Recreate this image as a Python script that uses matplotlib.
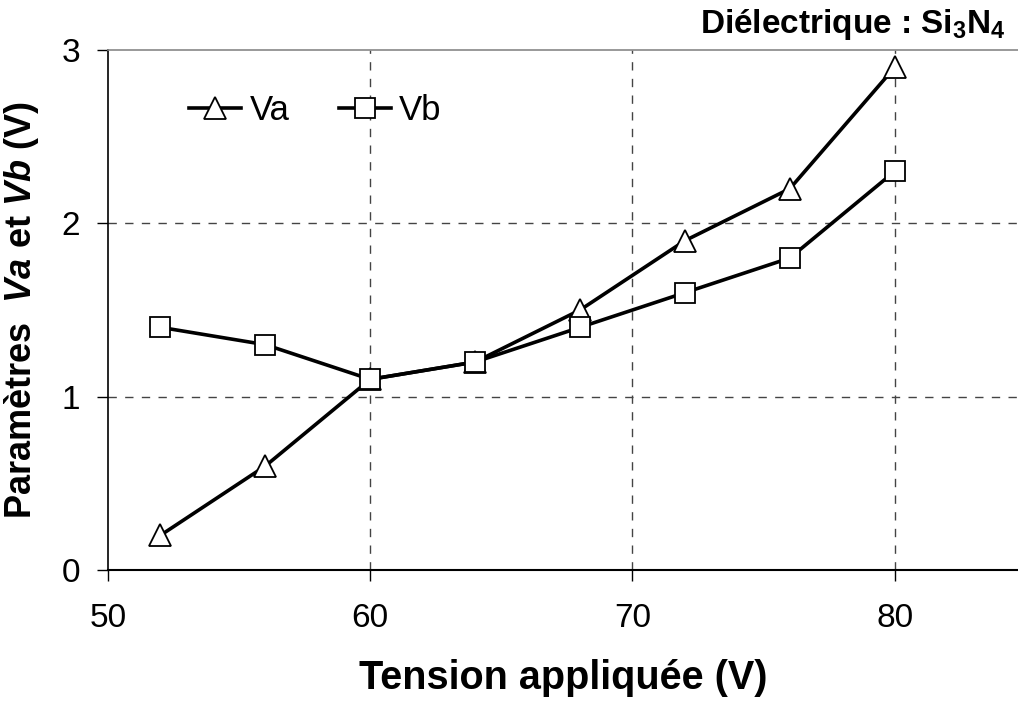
import matplotlib
matplotlib.use("Agg")
import matplotlib.pyplot as plt

plt.rcParams['font.family'] = ['Liberation Sans', 'DejaVu Sans']
plt.rcParams['mathtext.fontset'] = 'custom'
plt.rcParams['mathtext.rm'] = 'Liberation Sans'
plt.rcParams['mathtext.bf'] = 'Liberation Sans:bold'
plt.rcParams['mathtext.it'] = 'Liberation Sans:italic'
plt.rcParams['mathtext.bfit'] = 'Liberation Sans:italic:bold'

tension = [52, 56, 60, 64, 68, 72, 76, 80]
va = [0.2, 0.6, 1.1, 1.2, 1.5, 1.9, 2.2, 2.9]
vb = [1.4, 1.3, 1.1, 1.2, 1.4, 1.6, 1.8, 2.3]
xticks = [50, 60, 70, 80]
yticks = [0, 1, 2, 3]

fig = plt.figure(figsize=(10.18, 7.04), dpi=100)
ax = fig.add_axes([108/1018, 1 - 570/704, (1018 - 108)/1018, (570 - 50)/704])

ax.plot(tension, va, color='black', lw=2.6, marker='^', ms=16, mfc='white',
        mec='black', mew=1.3, label='Va', zorder=3)
ax.plot(tension, vb, color='black', lw=2.6, marker='s', ms=14, mfc='white',
        mec='black', mew=1.3, label='Vb', zorder=3)

ax.set_xlim(50, 84.7)
ax.set_ylim(0, 3)
ax.set_xticks(xticks)
ax.set_yticks(yticks)
ax.tick_params(axis='both', direction='out', length=8, width=1, labelsize=24, colors='black')
ax.tick_params(axis='x', pad=16)
ax.tick_params(axis='y', pad=12)

for v in [60, 70, 80]:
    ax.axvline(v, color='#444444', lw=1, ls=(0, (6, 6)), zorder=1)
for v in [1, 2]:
    ax.axhline(v, color='#444444', lw=1, ls=(0, (6, 6)), zorder=1)

ax.spines['right'].set_visible(False)
ax.spines['top'].set_color('#888888')
ax.spines['top'].set_linewidth(1.2)
ax.spines['left'].set_linewidth(1.2)
ax.spines['bottom'].set_linewidth(1.5)

ax.set_xlabel('Tension appliquée (V)', fontsize=28.5, fontweight='bold', labelpad=18)
ax.set_ylabel(r'Paramètres  $\mathbfit{Va}$ et $\mathbfit{Vb}$ (V)', fontsize=26,
              fontweight='bold', labelpad=15)

leg = ax.legend(loc='upper left', bbox_to_anchor=(0.055, 0.975), ncol=2, frameon=False,
                fontsize=25, handlelength=1.5, columnspacing=1.4, handletextpad=0.25)

fig.text(1006/1018, 1 - 25/704, r'Diélectrique : Si$_\mathbf{3}$N$_\mathbf{4}$',
         ha='right', va='center', fontsize=24, fontweight='bold')

fig.savefig('out.png', dpi=100)
